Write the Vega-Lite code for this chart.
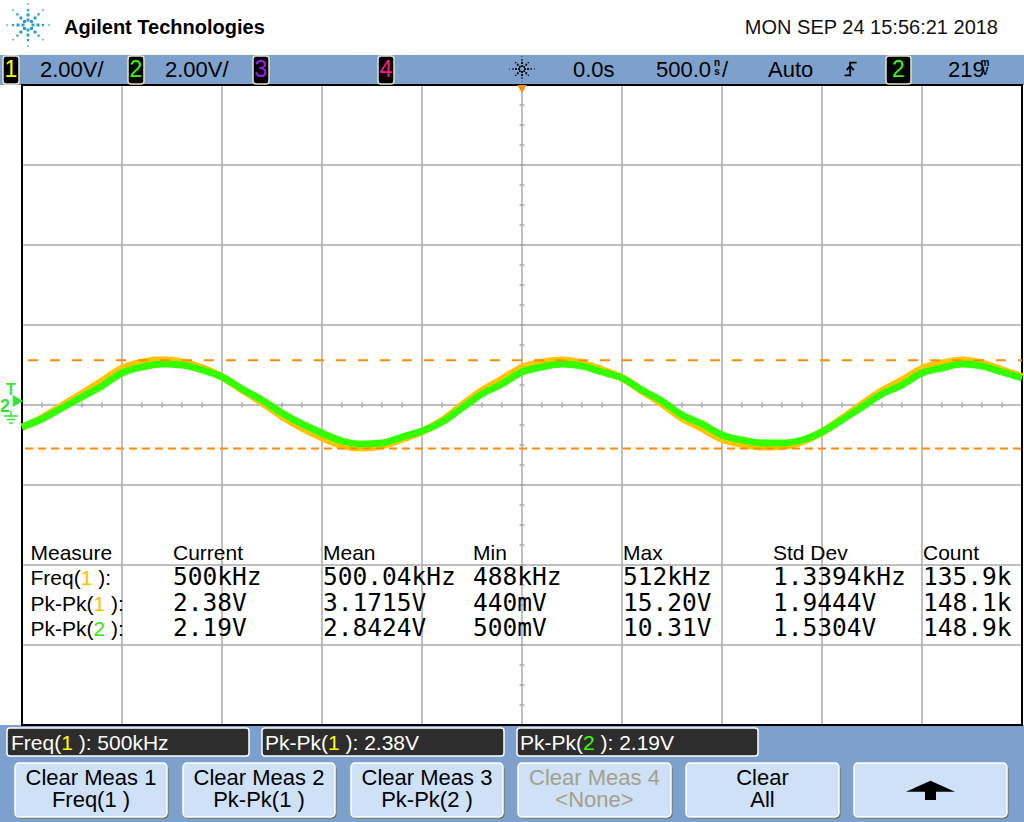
{
"$schema": "https://vega.github.io/schema/vega-lite/v6.json",
"width": 1024, "height": 822,
"autosize": {"type": "none"},
"padding": 0,
"background": "#ffffff",
"config": {"view": {"stroke": null}, "axis": {"disable": true}, "text": {"font": "Liberation Sans", "fontSize": 22, "baseline": "alphabetic", "align": "left", "color": "#000000"}, "point": {"opacity": 1}},
"datasets": {
"wave": [
{"t":-2.5,"v":-0.561,"ch":"1"},{"t":-2.4,"v":-0.325,"ch":"1"},{"t":-2.3,"v":-0.022,"ch":"1"},{"t":-2.2,"v":0.281,"ch":"1"},{"t":-2.1,"v":0.594,"ch":"1"},{"t":-2.0,"v":0.913,"ch":"1"},{"t":-1.9,"v":1.062,"ch":"1"},{"t":-1.8,"v":1.122,"ch":"1"},{"t":-1.7,"v":1.073,"ch":"1"},{"t":-1.6,"v":0.924,"ch":"1"},{"t":-1.5,"v":0.704,"ch":"1"},{"t":-1.4,"v":0.380,"ch":"1"},{"t":-1.3,"v":0.066,"ch":"1"},{"t":-1.2,"v":-0.281,"ch":"1"},{"t":-1.1,"v":-0.572,"ch":"1"},{"t":-1.0,"v":-0.814,"ch":"1"},{"t":-0.9,"v":-1.007,"ch":"1"},{"t":-0.8,"v":-1.067,"ch":"1"},{"t":-0.7,"v":-1.012,"ch":"1"},{"t":-0.6,"v":-0.847,"ch":"1"},{"t":-0.5,"v":-0.666,"ch":"1"},{"t":-0.4,"v":-0.391,"ch":"1"},{"t":-0.3,"v":-0.006,"ch":"1"},{"t":-0.2,"v":0.358,"ch":"1"},{"t":-0.1,"v":0.644,"ch":"1"},{"t":0.0,"v":0.935,"ch":"1"},{"t":0.1,"v":1.062,"ch":"1"},{"t":0.2,"v":1.117,"ch":"1"},{"t":0.3,"v":1.040,"ch":"1"},{"t":0.4,"v":0.875,"ch":"1"},{"t":0.5,"v":0.677,"ch":"1"},{"t":0.6,"v":0.352,"ch":"1"},{"t":0.7,"v":0.033,"ch":"1"},{"t":0.8,"v":-0.325,"ch":"1"},{"t":0.9,"v":-0.583,"ch":"1"},{"t":1.0,"v":-0.853,"ch":"1"},{"t":1.1,"v":-0.979,"ch":"1"},{"t":1.2,"v":-1.045,"ch":"1"},{"t":1.3,"v":-1.029,"ch":"1"},{"t":1.4,"v":-0.919,"ch":"1"},{"t":1.5,"v":-0.677,"ch":"1"},{"t":1.6,"v":-0.341,"ch":"1"},{"t":1.7,"v":0.017,"ch":"1"},{"t":1.8,"v":0.352,"ch":"1"},{"t":1.9,"v":0.616,"ch":"1"},{"t":2.0,"v":0.908,"ch":"1"},{"t":2.1,"v":1.040,"ch":"1"},{"t":2.2,"v":1.117,"ch":"1"},{"t":2.3,"v":1.040,"ch":"1"},{"t":2.4,"v":0.875,"ch":"1"},{"t":2.5,"v":0.704,"ch":"1"},
{"t":-2.5,"v":-0.55,"ch":"2"},{"t":-2.4,"v":-0.35,"ch":"2"},{"t":-2.3,"v":-0.075,"ch":"2"},{"t":-2.2,"v":0.2,"ch":"2"},{"t":-2.1,"v":0.475,"ch":"2"},{"t":-2.0,"v":0.8,"ch":"2"},{"t":-1.9,"v":0.95,"ch":"2"},{"t":-1.8,"v":1.025,"ch":"2"},{"t":-1.7,"v":1.0,"ch":"2"},{"t":-1.6,"v":0.875,"ch":"2"},{"t":-1.5,"v":0.7,"ch":"2"},{"t":-1.4,"v":0.4,"ch":"2"},{"t":-1.3,"v":0.125,"ch":"2"},{"t":-1.2,"v":-0.2,"ch":"2"},{"t":-1.1,"v":-0.475,"ch":"2"},{"t":-1.0,"v":-0.7,"ch":"2"},{"t":-0.9,"v":-0.9,"ch":"2"},{"t":-0.8,"v":-0.975,"ch":"2"},{"t":-0.7,"v":-0.95,"ch":"2"},{"t":-0.6,"v":-0.8,"ch":"2"},{"t":-0.5,"v":-0.65,"ch":"2"},{"t":-0.4,"v":-0.425,"ch":"2"},{"t":-0.3,"v":-0.075,"ch":"2"},{"t":-0.2,"v":0.275,"ch":"2"},{"t":-0.1,"v":0.525,"ch":"2"},{"t":0.0,"v":0.825,"ch":"2"},{"t":0.1,"v":0.95,"ch":"2"},{"t":0.2,"v":1.025,"ch":"2"},{"t":0.3,"v":0.975,"ch":"2"},{"t":0.4,"v":0.825,"ch":"2"},{"t":0.5,"v":0.675,"ch":"2"},{"t":0.6,"v":0.375,"ch":"2"},{"t":0.7,"v":0.1,"ch":"2"},{"t":0.8,"v":-0.25,"ch":"2"},{"t":0.9,"v":-0.475,"ch":"2"},{"t":1.0,"v":-0.75,"ch":"2"},{"t":1.1,"v":-0.875,"ch":"2"},{"t":1.2,"v":-0.95,"ch":"2"},{"t":1.3,"v":-0.95,"ch":"2"},{"t":1.4,"v":-0.875,"ch":"2"},{"t":1.5,"v":-0.675,"ch":"2"},{"t":1.6,"v":-0.375,"ch":"2"},{"t":1.7,"v":-0.05,"ch":"2"},{"t":1.8,"v":0.275,"ch":"2"},{"t":1.9,"v":0.5,"ch":"2"},{"t":2.0,"v":0.8,"ch":"2"},{"t":2.1,"v":0.925,"ch":"2"},{"t":2.2,"v":1.025,"ch":"2"},{"t":2.3,"v":0.975,"ch":"2"},{"t":2.4,"v":0.825,"ch":"2"},{"t":2.5,"v":0.675,"ch":"2"}
],
"vgrid": [{"t":-2},{"t":-1.5},{"t":-1},{"t":-0.5},{"t":0},{"t":0.5},{"t":1},{"t":1.5},{"t":2}],
"hgrid": [{"v":-6},{"v":-4},{"v":-2},{"v":0},{"v":2},{"v":4},{"v":6}],
"xticks": [{"t":-2.5},{"t":-2.4},{"t":-2.3},{"t":-2.2},{"t":-2.1},{"t":-2},{"t":-1.9},{"t":-1.8},{"t":-1.7},{"t":-1.6},{"t":-1.5},{"t":-1.4},{"t":-1.3},{"t":-1.2},{"t":-1.1},{"t":-1},{"t":-0.9},{"t":-0.8},{"t":-0.7},{"t":-0.6},{"t":-0.5},{"t":-0.4},{"t":-0.3},{"t":-0.2},{"t":-0.1},{"t":0},{"t":0.1},{"t":0.2},{"t":0.3},{"t":0.4},{"t":0.5},{"t":0.6},{"t":0.7},{"t":0.8},{"t":0.9},{"t":1},{"t":1.1},{"t":1.2},{"t":1.3},{"t":1.4},{"t":1.5},{"t":1.6},{"t":1.7},{"t":1.8},{"t":1.9},{"t":2},{"t":2.1},{"t":2.2},{"t":2.3},{"t":2.4},{"t":2.5}],
"yticks": [{"v":-8},{"v":-7.5},{"v":-7},{"v":-6.5},{"v":-6},{"v":-5.5},{"v":-5},{"v":-4.5},{"v":-4},{"v":-3.5},{"v":-3},{"v":-2.5},{"v":-2},{"v":-1.5},{"v":-1},{"v":-0.5},{"v":0},{"v":0.5},{"v":1},{"v":1.5},{"v":2},{"v":2.5},{"v":3},{"v":3.5},{"v":4},{"v":4.5},{"v":5},{"v":5.5},{"v":6},{"v":6.5},{"v":7},{"v":7.5},{"v":8}],
"table": [
{"measure":"Freq(1 ):","ch":"1","Current":"500kHz","Mean":"500.04kHz","Min":"488kHz","Max":"512kHz","Std Dev":"1.3394kHz","Count":"135.9k"},
{"measure":"Pk-Pk(1 ):","ch":"1","Current":"2.38V","Mean":"3.1715V","Min":"440mV","Max":"15.20V","Std Dev":"1.9444V","Count":"148.1k"},
{"measure":"Pk-Pk(2 ):","ch":"2","Current":"2.19V","Mean":"2.8424V","Min":"500mV","Max":"10.31V","Std Dev":"1.5304V","Count":"148.9k"}
]
},
"resolve": {"scale": {"x": "independent", "y": "independent"}},
"layer": [
{"data": {"values": [{}]}, "layer": [
{"mark": {"type": "rect", "color": "#7da0cd"}, "encoding": {"x": {"datum": -2.61, "type": "quantitative", "scale": {"domain": [-2.61, 2.51], "nice": false, "zero": false}}, "x2": {"datum": 2.51}, "y": {"datum": 8.75, "type": "quantitative", "scale": {"domain": [-10.425, 10.125], "nice": false, "zero": false}}, "y2": {"datum": 8.0}}},
{"mark": {"type": "rect", "color": "#7da0cd"}, "encoding": {"x": {"datum": -2.61}, "x2": {"datum": 2.51}, "y": {"datum": -8.0}, "y2": {"datum": -10.425}}},
{"data": {"name": "vgrid"}, "mark": {"type": "rule", "color": "#aaaaaa", "strokeWidth": 1.5}, "encoding": {"x": {"field": "t", "type": "quantitative"}, "y": {"datum": -8}, "y2": {"datum": 8}}},
{"data": {"name": "hgrid"}, "mark": {"type": "rule", "color": "#aaaaaa", "strokeWidth": 1.5}, "encoding": {"y": {"field": "v", "type": "quantitative"}, "x": {"datum": -2.5}, "x2": {"datum": 2.5}}},
{"data": {"name": "xticks"}, "mark": {"type": "rule", "color": "#aaaaaa", "strokeWidth": 1.5}, "encoding": {"x": {"field": "t", "type": "quantitative"}, "y": {"datum": -0.06}, "y2": {"datum": 0.06}}},
{"data": {"name": "yticks"}, "mark": {"type": "rule", "color": "#aaaaaa", "strokeWidth": 1.5}, "encoding": {"y": {"field": "v", "type": "quantitative"}, "x": {"datum": -0.0125}, "x2": {"datum": 0.0125}}},
{"mark": {"type": "rect", "filled": false, "color": "#000000", "strokeWidth": 2}, "encoding": {"x": {"datum": -2.5}, "x2": {"datum": 2.5}, "y": {"datum": -8}, "y2": {"datum": 8}}},
{"data": {"name": "wave"}, "transform": [{"filter": "datum.ch === '1'"}], "mark": {"type": "line", "color": "#ffc400", "strokeWidth": 7.5, "interpolate": "monotone"}, "encoding": {"x": {"field": "t", "type": "quantitative"}, "y": {"field": "v", "type": "quantitative"}}},
{"data": {"name": "wave"}, "transform": [{"filter": "datum.ch === '2'"}], "mark": {"type": "line", "color": "#33ff00", "strokeWidth": 7, "interpolate": "monotone"}, "encoding": {"x": {"field": "t", "type": "quantitative"}, "y": {"field": "v", "type": "quantitative"}}},
{"mark": {"type": "rule", "color": "#ff8c00", "strokeWidth": 2, "strokeDash": [10, 12]}, "encoding": {"x": {"datum": -2.47}, "x2": {"datum": 2.5}, "y": {"datum": 1.12}}},
{"mark": {"type": "rule", "color": "#ff8c00", "strokeWidth": 2, "strokeDash": [8, 5]}, "encoding": {"x": {"datum": -2.485}, "x2": {"datum": 2.5}, "y": {"datum": -1.085}}},
{"mark": {"type": "point", "shape": "triangle-down", "filled": true, "color": "#ff8c00", "size": 90}, "encoding": {"x": {"datum": 0}, "y": {"datum": 7.9}}},
{"mark": {"type": "text", "text": "T", "fontSize": 16, "fontWeight": "bold", "align": "center", "color": "#33e633"}, "encoding": {"x": {"datum": -2.555}, "y": {"datum": 0.25}}},
{"mark": {"type": "text", "text": "2", "fontSize": 18, "fontWeight": "bold", "align": "center", "color": "#33e633"}, "encoding": {"x": {"datum": -2.585}, "y": {"datum": -0.175}}},
{"mark": {"type": "point", "shape": "triangle-right", "filled": true, "color": "#33e633", "size": 150}, "encoding": {"x": {"datum": -2.52}, "y": {"datum": 0.1}}},
{"mark": {"type": "point", "shape": "M-1,-0.3H1M-0.6,0.2H0.6M-0.25,0.7H0.25M0,-1V-0.3", "filled": false, "color": "#33e633", "strokeWidth": 1.5, "size": 196}, "encoding": {"x": {"datum": -2.555}, "y": {"datum": -0.325}}},
{"mark": {"type": "point", "shape": "M0.14,-0.06h0.12v0.12h-0.12Z M-0.26,-0.06h0.12v0.12h-0.12Z M-0.06,0.14h0.12v0.12h-0.12Z M-0.06,-0.26h0.12v0.12h-0.12Z M0.081,0.081h0.12v0.12h-0.12Z M-0.201,0.081h0.12v0.12h-0.12Z M0.081,-0.201h0.12v0.12h-0.12Z M-0.201,-0.201h0.12v0.12h-0.12Z M0.34,-0.06h0.12v0.12h-0.12Z M-0.46,-0.06h0.12v0.12h-0.12Z M-0.06,0.34h0.12v0.12h-0.12Z M-0.06,-0.46h0.12v0.12h-0.12Z M0.223,0.223h0.12v0.12h-0.12Z M-0.343,0.223h0.12v0.12h-0.12Z M0.223,-0.343h0.12v0.12h-0.12Z M-0.343,-0.343h0.12v0.12h-0.12Z M0.555,-0.045h0.09v0.09h-0.09Z M-0.645,-0.045h0.09v0.09h-0.09Z M-0.045,0.555h0.09v0.09h-0.09Z M-0.045,-0.645h0.09v0.09h-0.09Z M0.379,0.379h0.09v0.09h-0.09Z M-0.469,0.379h0.09v0.09h-0.09Z M0.379,-0.469h0.09v0.09h-0.09Z M-0.469,-0.469h0.09v0.09h-0.09Z M0.81,-0.03h0.06v0.06h-0.06Z M-0.87,-0.03h0.06v0.06h-0.06Z M-0.03,0.81h0.06v0.06h-0.06Z M-0.03,-0.87h0.06v0.06h-0.06Z M0.564,0.564h0.06v0.06h-0.06Z M-0.624,0.564h0.06v0.06h-0.06Z M0.564,-0.624h0.06v0.06h-0.06Z M-0.624,-0.624h0.06v0.06h-0.06Z", "filled": true, "color": "#29a0c8", "strokeWidth": 0, "size": 2500}, "encoding": {"x": {"datum": -2.47}, "y": {"datum": 9.5}}},
{"mark": {"type": "text", "text": "Agilent Technologies", "fontSize": 20, "fontWeight": "bold"}, "encoding": {"x": {"datum": -2.29}, "y": {"datum": 9.275}}},
{"mark": {"type": "text", "text": "MON SEP 24 15:56:21 2018", "fontSize": 20, "align": "right", "color": "#111111"}, "encoding": {"x": {"datum": 2.38}, "y": {"datum": 9.275}}},
{"mark": {"type": "rect", "color": "#000000", "stroke": "#e6e2c6", "strokeWidth": 1.5, "cornerRadius": 3}, "encoding": {"x": {"datum": -2.595}, "x2": {"datum": -2.515}, "y": {"datum": 8.725}, "y2": {"datum": 8.025}}},
{"mark": {"type": "rect", "color": "#000000", "stroke": "#e6e2c6", "strokeWidth": 1.5, "cornerRadius": 3}, "encoding": {"x": {"datum": -1.97}, "x2": {"datum": -1.89}, "y": {"datum": 8.725}, "y2": {"datum": 8.025}}},
{"mark": {"type": "rect", "color": "#000000", "stroke": "#e6e2c6", "strokeWidth": 1.5, "cornerRadius": 3}, "encoding": {"x": {"datum": -1.345}, "x2": {"datum": -1.265}, "y": {"datum": 8.725}, "y2": {"datum": 8.025}}},
{"mark": {"type": "rect", "color": "#000000", "stroke": "#e6e2c6", "strokeWidth": 1.5, "cornerRadius": 3}, "encoding": {"x": {"datum": -0.72}, "x2": {"datum": -0.64}, "y": {"datum": 8.725}, "y2": {"datum": 8.025}}},
{"mark": {"type": "rect", "color": "#000000", "stroke": "#e6e2c6", "strokeWidth": 1.5, "cornerRadius": 3}, "encoding": {"x": {"datum": 1.82}, "x2": {"datum": 1.945}, "y": {"datum": 8.725}, "y2": {"datum": 8.025}}},
{"mark": {"type": "text", "text": "1", "fontSize": 23, "align": "center", "color": "#ffff00"}, "encoding": {"x": {"datum": -2.555}, "y": {"datum": 8.2}}},
{"mark": {"type": "text", "text": "2", "fontSize": 23, "align": "center", "color": "#33ff00"}, "encoding": {"x": {"datum": -1.93}, "y": {"datum": 8.2}}},
{"mark": {"type": "text", "text": "3", "fontSize": 23, "align": "center", "color": "#a020f0"}, "encoding": {"x": {"datum": -1.305}, "y": {"datum": 8.2}}},
{"mark": {"type": "text", "text": "4", "fontSize": 23, "align": "center", "color": "#ff1a8c"}, "encoding": {"x": {"datum": -0.68}, "y": {"datum": 8.2}}},
{"mark": {"type": "text", "text": "2", "fontSize": 23, "align": "center", "color": "#33ff00"}, "encoding": {"x": {"datum": 1.8825}, "y": {"datum": 8.2}}},
{"mark": {"type": "text", "text": "2.00V/"}, "encoding": {"x": {"datum": -2.41}, "y": {"datum": 8.21}}},
{"mark": {"type": "text", "text": "2.00V/"}, "encoding": {"x": {"datum": -1.785}, "y": {"datum": 8.21}}},
{"mark": {"type": "point", "shape": "M0.14,-0.06h0.12v0.12h-0.12Z M-0.26,-0.06h0.12v0.12h-0.12Z M-0.06,0.14h0.12v0.12h-0.12Z M-0.06,-0.26h0.12v0.12h-0.12Z M0.081,0.081h0.12v0.12h-0.12Z M-0.201,0.081h0.12v0.12h-0.12Z M0.081,-0.201h0.12v0.12h-0.12Z M-0.201,-0.201h0.12v0.12h-0.12Z M0.34,-0.06h0.12v0.12h-0.12Z M-0.46,-0.06h0.12v0.12h-0.12Z M-0.06,0.34h0.12v0.12h-0.12Z M-0.06,-0.46h0.12v0.12h-0.12Z M0.223,0.223h0.12v0.12h-0.12Z M-0.343,0.223h0.12v0.12h-0.12Z M0.223,-0.343h0.12v0.12h-0.12Z M-0.343,-0.343h0.12v0.12h-0.12Z M0.555,-0.045h0.09v0.09h-0.09Z M-0.645,-0.045h0.09v0.09h-0.09Z M-0.045,0.555h0.09v0.09h-0.09Z M-0.045,-0.645h0.09v0.09h-0.09Z M0.379,0.379h0.09v0.09h-0.09Z M-0.469,0.379h0.09v0.09h-0.09Z M0.379,-0.469h0.09v0.09h-0.09Z M-0.469,-0.469h0.09v0.09h-0.09Z M0.81,-0.03h0.06v0.06h-0.06Z M-0.87,-0.03h0.06v0.06h-0.06Z M-0.03,0.81h0.06v0.06h-0.06Z M-0.03,-0.87h0.06v0.06h-0.06Z", "filled": true, "color": "#000000", "strokeWidth": 0, "size": 900}, "encoding": {"x": {"datum": 0}, "y": {"datum": 8.4}}},
{"mark": {"type": "text", "text": "0.0s"}, "encoding": {"x": {"datum": 0.255}, "y": {"datum": 8.21}}},
{"mark": {"type": "text", "text": "500.0"}, "encoding": {"x": {"datum": 0.67}, "y": {"datum": 8.21}}},
{"mark": {"type": "text", "text": "n", "fontSize": 10, "fontWeight": "bold", "align": "center"}, "encoding": {"x": {"datum": 0.975}, "y": {"datum": 8.475}}},
{"mark": {"type": "text", "text": "s", "fontSize": 10, "fontWeight": "bold", "align": "center"}, "encoding": {"x": {"datum": 0.975}, "y": {"datum": 8.25}}},
{"mark": {"type": "text", "text": "/"}, "encoding": {"x": {"datum": 1.0}, "y": {"datum": 8.21}}},
{"mark": {"type": "text", "text": "Auto"}, "encoding": {"x": {"datum": 1.23}, "y": {"datum": 8.21}}},
{"mark": {"type": "point", "shape": "M-0.8,0.8H-0.1V-0.8H0.7M-0.55,0.15L-0.1,-0.35L0.35,0.15", "filled": false, "color": "#000000", "strokeWidth": 1.8, "size": 256}, "encoding": {"x": {"datum": 1.645}, "y": {"datum": 8.4}}},
{"mark": {"type": "text", "text": "219"}, "encoding": {"x": {"datum": 2.13}, "y": {"datum": 8.21}}},
{"mark": {"type": "text", "text": "m", "fontSize": 10, "fontWeight": "bold", "align": "center"}, "encoding": {"x": {"datum": 2.315}, "y": {"datum": 8.475}}},
{"mark": {"type": "text", "text": "V", "fontSize": 10, "fontWeight": "bold", "align": "center"}, "encoding": {"x": {"datum": 2.315}, "y": {"datum": 8.25}}},
{"mark": {"type": "rect", "color": "#2d2d2d", "stroke": "#ffffff", "strokeWidth": 1.5, "cornerRadius": 3}, "encoding": {"x": {"datum": -2.575}, "x2": {"datum": -1.365}, "y": {"datum": -8.075}, "y2": {"datum": -8.775}}},
{"mark": {"type": "rect", "color": "#2d2d2d", "stroke": "#ffffff", "strokeWidth": 1.5, "cornerRadius": 3}, "encoding": {"x": {"datum": -1.3}, "x2": {"datum": -0.09}, "y": {"datum": -8.075}, "y2": {"datum": -8.775}}},
{"mark": {"type": "rect", "color": "#2d2d2d", "stroke": "#ffffff", "strokeWidth": 1.5, "cornerRadius": 3}, "encoding": {"x": {"datum": -0.025}, "x2": {"datum": 1.18}, "y": {"datum": -8.075}, "y2": {"datum": -8.775}}},
{"mark": {"type": "text", "text": "Freq(", "fontSize": 21, "color": "#ffffff"}, "encoding": {"x": {"datum": -2.555}, "y": {"datum": -8.625}}},
{"mark": {"type": "text", "text": "1", "fontSize": 21, "color": "#ffff00", "dx": 50.2}, "encoding": {"x": {"datum": -2.555}, "y": {"datum": -8.625}}},
{"mark": {"type": "text", "text": "): 500kHz", "fontSize": 21, "color": "#ffffff", "dx": 67.7}, "encoding": {"x": {"datum": -2.555}, "y": {"datum": -8.625}}},
{"mark": {"type": "text", "text": "Pk-Pk(", "fontSize": 21, "color": "#ffffff"}, "encoding": {"x": {"datum": -1.285}, "y": {"datum": -8.625}}},
{"mark": {"type": "text", "text": "1", "fontSize": 21, "color": "#ffff00", "dx": 63}, "encoding": {"x": {"datum": -1.285}, "y": {"datum": -8.625}}},
{"mark": {"type": "text", "text": "): 2.38V", "fontSize": 21, "color": "#ffffff", "dx": 80.5}, "encoding": {"x": {"datum": -1.285}, "y": {"datum": -8.625}}},
{"mark": {"type": "text", "text": "Pk-Pk(", "fontSize": 21, "color": "#ffffff"}, "encoding": {"x": {"datum": -0.01}, "y": {"datum": -8.625}}},
{"mark": {"type": "text", "text": "2", "fontSize": 21, "color": "#33ff00", "dx": 63}, "encoding": {"x": {"datum": -0.01}, "y": {"datum": -8.625}}},
{"mark": {"type": "text", "text": "): 2.19V", "fontSize": 21, "color": "#ffffff", "dx": 80.5}, "encoding": {"x": {"datum": -0.01}, "y": {"datum": -8.625}}},
{"mark": {"type": "rect", "color": "#6e6a50", "cornerRadius": 4}, "encoding": {"x": {"datum": -2.5275}, "x2": {"datum": -1.7675}, "y": {"datum": -8.9875}, "y2": {"datum": -10.3375}}},
{"mark": {"type": "rect", "color": "#6e6a50", "cornerRadius": 4}, "encoding": {"x": {"datum": -1.6875}, "x2": {"datum": -0.9275}, "y": {"datum": -8.9875}, "y2": {"datum": -10.3375}}},
{"mark": {"type": "rect", "color": "#6e6a50", "cornerRadius": 4}, "encoding": {"x": {"datum": -0.8475}, "x2": {"datum": -0.0875}, "y": {"datum": -8.9875}, "y2": {"datum": -10.3375}}},
{"mark": {"type": "rect", "color": "#6e6a50", "cornerRadius": 4}, "encoding": {"x": {"datum": -0.0125}, "x2": {"datum": 0.7525}, "y": {"datum": -8.9875}, "y2": {"datum": -10.3375}}},
{"mark": {"type": "rect", "color": "#6e6a50", "cornerRadius": 4}, "encoding": {"x": {"datum": 0.8275}, "x2": {"datum": 1.5925}, "y": {"datum": -8.9875}, "y2": {"datum": -10.3375}}},
{"mark": {"type": "rect", "color": "#6e6a50", "cornerRadius": 4}, "encoding": {"x": {"datum": 1.6675}, "x2": {"datum": 2.4325}, "y": {"datum": -8.9875}, "y2": {"datum": -10.3375}}},
{"mark": {"type": "rect", "color": "#cfe1f7", "stroke": "#ffffff", "strokeWidth": 1.5, "cornerRadius": 4}, "encoding": {"x": {"datum": -2.535}, "x2": {"datum": -1.775}, "y": {"datum": -8.95}, "y2": {"datum": -10.3}}},
{"mark": {"type": "rect", "color": "#cfe1f7", "stroke": "#ffffff", "strokeWidth": 1.5, "cornerRadius": 4}, "encoding": {"x": {"datum": -1.695}, "x2": {"datum": -0.935}, "y": {"datum": -8.95}, "y2": {"datum": -10.3}}},
{"mark": {"type": "rect", "color": "#cfe1f7", "stroke": "#ffffff", "strokeWidth": 1.5, "cornerRadius": 4}, "encoding": {"x": {"datum": -0.855}, "x2": {"datum": -0.095}, "y": {"datum": -8.95}, "y2": {"datum": -10.3}}},
{"mark": {"type": "rect", "color": "#cfe1f7", "stroke": "#ffffff", "strokeWidth": 1.5, "cornerRadius": 4}, "encoding": {"x": {"datum": -0.02}, "x2": {"datum": 0.745}, "y": {"datum": -8.95}, "y2": {"datum": -10.3}}},
{"mark": {"type": "rect", "color": "#cfe1f7", "stroke": "#ffffff", "strokeWidth": 1.5, "cornerRadius": 4}, "encoding": {"x": {"datum": 0.82}, "x2": {"datum": 1.585}, "y": {"datum": -8.95}, "y2": {"datum": -10.3}}},
{"mark": {"type": "rect", "color": "#cfe1f7", "stroke": "#ffffff", "strokeWidth": 1.5, "cornerRadius": 4}, "encoding": {"x": {"datum": 1.66}, "x2": {"datum": 2.425}, "y": {"datum": -8.95}, "y2": {"datum": -10.3}}},
{"mark": {"type": "text", "text": "Clear Meas 1", "align": "center"}, "encoding": {"x": {"datum": -2.155}, "y": {"datum": -9.5}}},
{"mark": {"type": "text", "text": "Freq(1 )", "align": "center"}, "encoding": {"x": {"datum": -2.155}, "y": {"datum": -10.05}}},
{"mark": {"type": "text", "text": "Clear Meas 2", "align": "center"}, "encoding": {"x": {"datum": -1.315}, "y": {"datum": -9.5}}},
{"mark": {"type": "text", "text": "Pk-Pk(1 )", "align": "center"}, "encoding": {"x": {"datum": -1.315}, "y": {"datum": -10.05}}},
{"mark": {"type": "text", "text": "Clear Meas 3", "align": "center"}, "encoding": {"x": {"datum": -0.475}, "y": {"datum": -9.5}}},
{"mark": {"type": "text", "text": "Pk-Pk(2 )", "align": "center"}, "encoding": {"x": {"datum": -0.475}, "y": {"datum": -10.05}}},
{"mark": {"type": "text", "text": "Clear Meas 4", "align": "center", "color": "#a3a08a"}, "encoding": {"x": {"datum": 0.3625}, "y": {"datum": -9.5}}},
{"mark": {"type": "text", "text": "<None>", "align": "center", "color": "#a3a08a"}, "encoding": {"x": {"datum": 0.3625}, "y": {"datum": -10.05}}},
{"mark": {"type": "text", "text": "Clear", "align": "center"}, "encoding": {"x": {"datum": 1.2025}, "y": {"datum": -9.5}}},
{"mark": {"type": "text", "text": "All", "align": "center"}, "encoding": {"x": {"datum": 1.2025}, "y": {"datum": -10.05}}},
{"mark": {"type": "point", "shape": "M0,-0.39L0.98,0.05L0.22,0.05L0.22,0.38L-0.22,0.38L-0.22,0.05L-0.98,0.05Z", "filled": true, "color": "#000000", "strokeWidth": 0, "size": 2500}, "encoding": {"x": {"datum": 2.0425}, "y": {"datum": -9.6375}}}
]},
{"layer": [
{"data": {"name": "table"}, "transform": [{"fold": ["Current", "Mean", "Min", "Max", "Std Dev", "Count"]}], "mark": {"type": "text", "font": "DejaVu Sans Mono", "fontSize": 24.5}, "encoding": {"x": {"field": "key", "type": "nominal", "scale": {"type": "point", "domain": ["Measure", "Current", "Mean", "Min", "Max", "Std Dev", "Count"], "range": [23, 923], "padding": 0}}, "y": {"field": "measure", "type": "nominal", "scale": {"type": "point", "domain": ["Measure", "Freq(1 ):", "Pk-Pk(1 ):", "Pk-Pk(2 ):"], "range": [560, 636], "padding": 0}}, "text": {"field": "value"}}},
{"data": {"name": "table"}, "transform": [{"filter": "datum.measure === 'Freq(1 ):'"}, {"fold": ["Current", "Mean", "Min", "Max", "Std Dev", "Count"]}], "mark": {"type": "text", "fontSize": 21}, "encoding": {"x": {"field": "key", "type": "nominal"}, "y": {"datum": "Measure", "type": "nominal"}, "text": {"field": "key"}}},
{"data": {"values": [{}]}, "mark": {"type": "text", "text": "Measure", "fontSize": 21, "dx": 7.5}, "encoding": {"x": {"datum": "Measure", "type": "nominal"}, "y": {"datum": "Measure", "type": "nominal"}}},
{"data": {"values": [{}]}, "mark": {"type": "text", "text": "Freq(", "fontSize": 21, "dx": 7.5}, "encoding": {"x": {"datum": "Measure", "type": "nominal"}, "y": {"datum": "Freq(1 ):", "type": "nominal"}}},
{"data": {"values": [{}]}, "mark": {"type": "text", "text": "1", "fontSize": 21, "dx": 57.7, "color": "#ffbe00"}, "encoding": {"x": {"datum": "Measure", "type": "nominal"}, "y": {"datum": "Freq(1 ):", "type": "nominal"}}},
{"data": {"values": [{}]}, "mark": {"type": "text", "text": "):", "fontSize": 21, "dx": 75.2}, "encoding": {"x": {"datum": "Measure", "type": "nominal"}, "y": {"datum": "Freq(1 ):", "type": "nominal"}}},
{"data": {"values": [{}]}, "mark": {"type": "text", "text": "Pk-Pk(", "fontSize": 21, "dx": 7.5}, "encoding": {"x": {"datum": "Measure", "type": "nominal"}, "y": {"datum": "Pk-Pk(1 ):", "type": "nominal"}}},
{"data": {"values": [{}]}, "mark": {"type": "text", "text": "1", "fontSize": 21, "dx": 70.5, "color": "#ffbe00"}, "encoding": {"x": {"datum": "Measure", "type": "nominal"}, "y": {"datum": "Pk-Pk(1 ):", "type": "nominal"}}},
{"data": {"values": [{}]}, "mark": {"type": "text", "text": "):", "fontSize": 21, "dx": 88}, "encoding": {"x": {"datum": "Measure", "type": "nominal"}, "y": {"datum": "Pk-Pk(1 ):", "type": "nominal"}}},
{"data": {"values": [{}]}, "mark": {"type": "text", "text": "Pk-Pk(", "fontSize": 21, "dx": 7.5}, "encoding": {"x": {"datum": "Measure", "type": "nominal"}, "y": {"datum": "Pk-Pk(2 ):", "type": "nominal"}}},
{"data": {"values": [{}]}, "mark": {"type": "text", "text": "2", "fontSize": 21, "dx": 70.5, "color": "#33e600"}, "encoding": {"x": {"datum": "Measure", "type": "nominal"}, "y": {"datum": "Pk-Pk(2 ):", "type": "nominal"}}},
{"data": {"values": [{}]}, "mark": {"type": "text", "text": "):", "fontSize": 21, "dx": 88}, "encoding": {"x": {"datum": "Measure", "type": "nominal"}, "y": {"datum": "Pk-Pk(2 ):", "type": "nominal"}}}
]}
]
}
